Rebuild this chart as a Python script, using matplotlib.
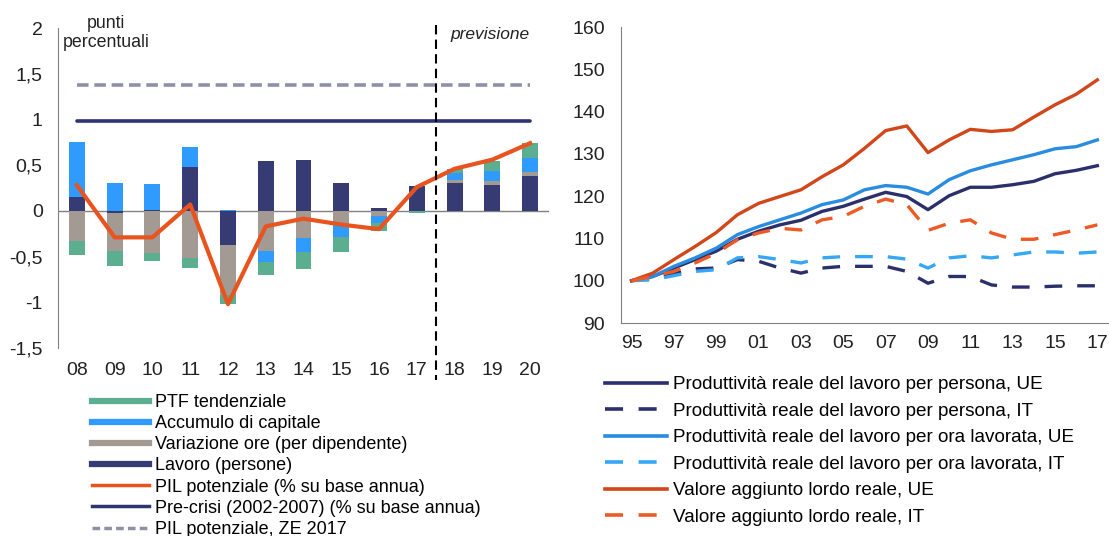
import matplotlib.pyplot as plt
import numpy as np
from matplotlib.lines import Line2D

plt.rcParams['font.family'] = ['Liberation Sans', 'DejaVu Sans']

# --- left panel: contributions to potential GDP growth (percentage points)
years_l = [2008, 2009, 2010, 2011, 2012, 2013, 2014, 2015, 2016, 2017, 2018, 2019, 2020]
year_labels_l = ['08', '09', '10', '11', '12', '13', '14', '15', '16', '17', '18', '19', '20']
lavoro = [0.15, -0.02, 0.01, 0.48, -0.37, 0.54, 0.555, 0.31, 0.03, 0.27, 0.30, 0.283, 0.377]
ore = [-0.33, -0.42, -0.46, -0.52, -0.55, -0.435, -0.30, -0.16, -0.06, 0.0, 0.033, 0.043, 0.047]
capitale = [0.60, 0.31, 0.28, 0.22, 0.01, -0.12, -0.152, -0.13, -0.07, 0.0, 0.076, 0.109, 0.152]
ptf = [-0.15, -0.16, -0.09, -0.10, -0.098, -0.152, -0.18, -0.16, -0.09, -0.02, 0.047, 0.109, 0.167]
pil_pot = [0.28, -0.29, -0.29, 0.07, -1.02, -0.17, -0.085, -0.15, -0.20, 0.26, 0.46, 0.56, 0.74]
pre_crisi = 0.98
pil_ze_2017 = 1.38

# --- right panel: index 1995 = 100
years_r = list(range(1995, 2018))
year_labels_r = ['95', '97', '99', '01', '03', '05', '07', '09', '11', '13', '15', '17']
prod_pers_ue = [100, 101.0, 103.0, 105.0, 107.0, 109.8, 111.7, 113.2, 114.3, 116.4, 117.6, 119.3,
                120.9, 119.9, 116.8, 120.1, 122.1, 122.1, 122.7, 123.5, 125.3, 126.1, 127.2]
prod_pers_it = [100, 100.6, 101.7, 102.8, 103.0, 105.0, 104.6, 103.0, 101.8, 103.0, 103.4, 103.4,
                103.4, 102.2, 99.4, 101.0, 101.0, 99.0, 98.5, 98.5, 98.7, 98.8, 98.8]
prod_ora_ue = [100, 101.0, 103.4, 105.4, 107.7, 110.9, 112.8, 114.4, 116.0, 118.0, 119.1, 121.5,
               122.5, 122.1, 120.5, 123.9, 126.0, 127.4, 128.6, 129.8, 131.2, 131.7, 133.3]
prod_ora_it = [100, 100.2, 101.2, 102.2, 102.6, 105.4, 105.7, 105.0, 104.2, 105.4, 105.7, 105.7,
               105.7, 105.1, 103.0, 105.4, 105.9, 105.4, 106.1, 106.8, 106.8, 106.5, 106.8]
va_ue = [100, 101.8, 105.0, 108.1, 111.4, 115.6, 118.3, 119.9, 121.5, 124.6, 127.4, 131.3,
         135.5, 136.6, 130.3, 133.3, 135.8, 135.3, 135.7, 138.7, 141.6, 144.1, 147.5]
va_it = [100, 101.0, 102.2, 104.2, 106.5, 109.7, 111.3, 112.4, 112.0, 114.4, 115.2, 117.6,
         119.3, 118.0, 111.9, 113.6, 114.4, 111.3, 109.8, 109.8, 110.9, 112.0, 113.2]

C_NAVY = '#373B73'
C_GRAY = '#A39A93'
C_BLUE = '#2F9BFE'
C_GREEN = '#5BAE8F'
C_ORANGE = '#E9531E'
C_DASHGRAY = '#8E90A8'

fig = plt.figure(figsize=(11.09, 5.36), dpi=100)

# ================= left chart =================
ax1 = fig.add_axes([58 / 1109, 1 - 348 / 536, (549 - 58) / 1109, (348 - 28) / 536])

x = np.array(years_l)
pos_bottom = np.zeros(len(x))
neg_bottom = np.zeros(len(x))
for vals, col in [(lavoro, C_NAVY), (ore, C_GRAY), (capitale, C_BLUE), (ptf, C_GREEN)]:
    v = np.array(vals)
    bottoms = np.where(v >= 0, pos_bottom, neg_bottom)
    ax1.bar(x, v, bottom=bottoms, width=0.42, color=col, zorder=2)
    pos_bottom = pos_bottom + np.where(v >= 0, v, 0)
    neg_bottom = neg_bottom + np.where(v < 0, v, 0)

ax1.axhline(0, color='#808080', lw=1, zorder=1)
ax1.plot([years_l[0], years_l[-1]], [pil_ze_2017] * 2, color=C_DASHGRAY, lw=2.6,
         dashes=(3.2, 1.6), zorder=3)
ax1.plot([years_l[0], years_l[-1]], [pre_crisi] * 2, color='#2E3470', lw=2.6,
         solid_capstyle='round', zorder=3)
ax1.plot(x, pil_pot, color=C_ORANGE, lw=3, zorder=4)
ax1.plot([2017.5, 2017.5], [2.03, -1.85], color='black', lw=1.5, dashes=(4.5, 2.5),
         clip_on=False, zorder=5)

ax1.set_xlim(2007.5, 2020.5)
ax1.set_ylim(-1.5, 2)
ax1.set_yticks([-1.5, -1, -0.5, 0, 0.5, 1, 1.5, 2])
ax1.set_yticklabels(['-1,5', '-1', '-0,5', '0', '0,5', '1', '1,5', '2'])
ax1.set_xticks(years_l)
ax1.set_xticklabels(year_labels_l)
ax1.tick_params(axis='both', length=0, labelsize=14, colors='#222222')
ax1.tick_params(axis='x', pad=10)
ax1.tick_params(axis='y', pad=11)
for s in ['top', 'right', 'bottom']:
    ax1.spines[s].set_visible(False)
ax1.spines['left'].set_color('#808080')

ax1.text(2008.77, 1.95, 'punti\npercentuali', ha='center', va='center', fontsize=12.8,
         color='#222222', linespacing=1.15)
ax1.text(2018.95, 1.93, 'previsione', ha='center', va='center', fontsize=12.5,
         style='italic', color='#222222')

h1 = [Line2D([], [], color=C_GREEN, lw=4.5),
      Line2D([], [], color=C_BLUE, lw=4.5),
      Line2D([], [], color=C_GRAY, lw=4.5),
      Line2D([], [], color=C_NAVY, lw=4.5),
      Line2D([], [], color=C_ORANGE, lw=2.5),
      Line2D([], [], color='#2E3470', lw=2.5),
      Line2D([], [], color=C_DASHGRAY, lw=2.5, dashes=(2.2, 1.2))]
l1 = ['PTF tendenziale', 'Accumulo di capitale', 'Variazione ore (per dipendente)',
      'Lavoro (persone)', 'PIL potenziale (% su base annua)',
      'Pre-crisi (2002-2007) (% su base annua)', 'PIL potenziale, ZE 2017']
fig.legend(h1, l1, loc='upper left', bbox_to_anchor=(92 / 1109, 1 - 394 / 536),
           frameon=False, fontsize=13, handlelength=3.15, handletextpad=0.33,
           labelspacing=0.23, borderpad=0, borderaxespad=0)

# ================= right chart =================
ax2 = fig.add_axes([621 / 1109, 1 - 323 / 536, (1109 - 621) / 1109, (323 - 27) / 536])
lw = 2.4
ax2.plot(years_r, prod_pers_ue, color='#2B2F6B', lw=lw)
ax2.plot(years_r, prod_pers_it, color='#2B2F6B', lw=lw, dashes=(5.3, 4.5))
ax2.plot(years_r, prod_ora_ue, color='#2A8CE0', lw=lw)
ax2.plot(years_r, prod_ora_it, color='#35A8F5', lw=lw, dashes=(5.3, 4.5))
ax2.plot(years_r, va_ue, color='#D2471A', lw=lw)
ax2.plot(years_r, va_it, color='#EE5A24', lw=lw, dashes=(5.3, 4.5))

ax2.set_xlim(1994.5, 2017.55)
ax2.set_ylim(90, 160)
ax2.set_yticks(range(90, 161, 10))
ax2.set_xticks(range(1995, 2018, 2))
ax2.set_xticklabels(year_labels_r)
ax2.tick_params(axis='both', length=0, labelsize=14, colors='#222222')
ax2.tick_params(axis='x', pad=9)
ax2.tick_params(axis='y', pad=11.5)
for s in ['top', 'right']:
    ax2.spines[s].set_visible(False)
ax2.spines['left'].set_color('#808080')
ax2.spines['bottom'].set_color('#808080')

h2 = [Line2D([], [], color='#2B2F6B', lw=2.6),
      Line2D([], [], color='#2B2F6B', lw=2.6, dashes=(5.0, 4.3)),
      Line2D([], [], color='#2A8CE0', lw=2.6),
      Line2D([], [], color='#35A8F5', lw=2.6, dashes=(5.0, 4.3)),
      Line2D([], [], color='#D2471A', lw=2.6),
      Line2D([], [], color='#EE5A24', lw=2.6, dashes=(5.0, 4.3))]
l2 = ['Produttività reale del lavoro per persona, UE',
      'Produttività reale del lavoro per persona, IT',
      'Produttività reale del lavoro per ora lavorata, UE',
      'Produttività reale del lavoro per ora lavorata, IT',
      'Valore aggiunto lordo reale, UE',
      'Valore aggiunto lordo reale, IT']
fig.legend(h2, l2, loc='upper left', bbox_to_anchor=(605 / 1109, 1 - 376 / 536),
           frameon=False, fontsize=13.6, handlelength=3.3, handletextpad=0.32,
           labelspacing=0.49, borderpad=0, borderaxespad=0)

fig.savefig('out.png', dpi=100)
